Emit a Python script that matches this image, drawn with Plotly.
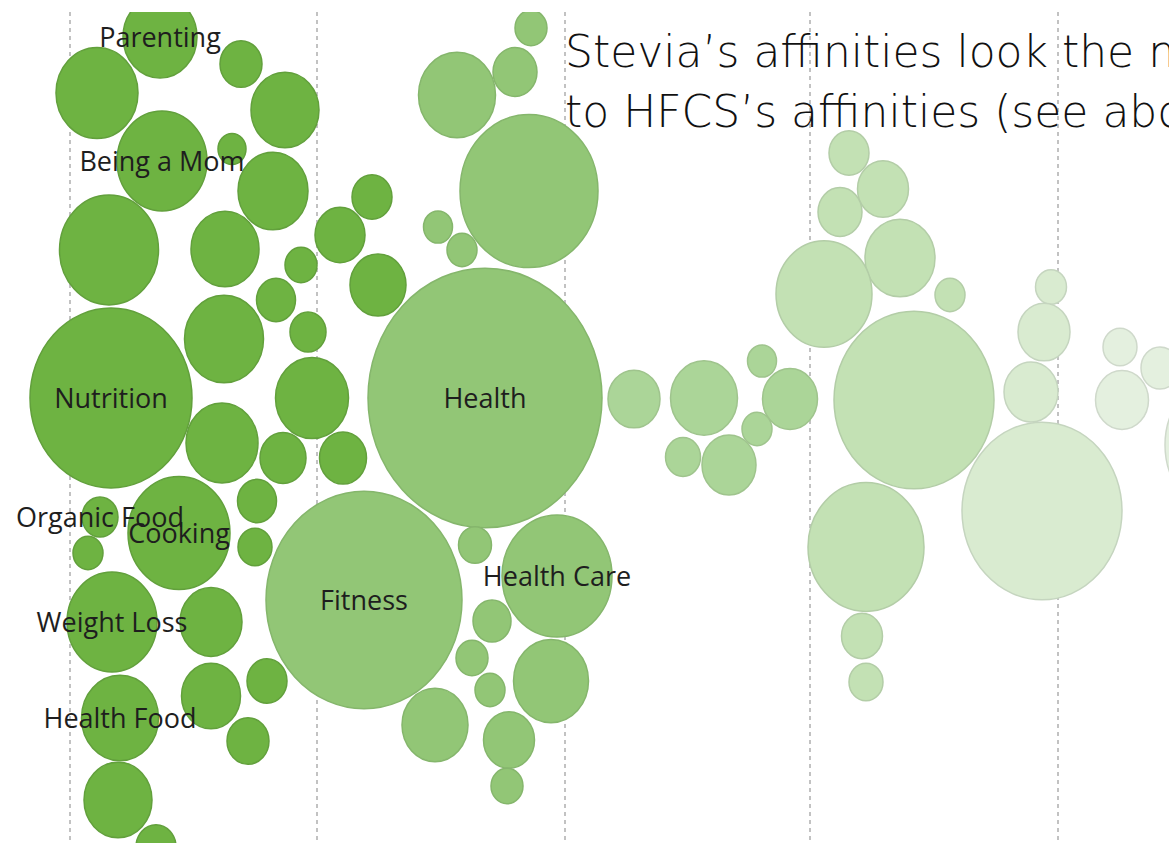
import plotly.graph_objects as go

# ---- data: topic bubbles (label, x, y, radius, shade group) ----
labels = [
    "Parenting", "", "", "", "Being a Mom", "", "", "", "", "",
    "", "", "", "", "", "Nutrition", "", "", "", "",
    "", "", "Cooking", "Organic Food", "", "", "Weight Loss", "", "Health Food", "",
    "", "", "", "",
    "Health", "Fitness", "", "", "", "", "", "", "", "Health Care",
    "", "", "", "", "", "", "",
    "", "", "", "", "", "", "",
    "", "", "", "", "", "", "", "", "", "",
    "", "", "", "",
    "", "", "", "",
]
bx = [
    160, 97, 241, 285, 162, 232, 273, 109, 225, 301,
    340, 372, 378, 276, 308, 111, 224, 312, 222, 283,
    343, 257, 179, 100, 88, 255, 112, 211, 120, 211,
    267, 248, 118, 156,
    485, 364, 457, 515, 531, 529, 438, 462, 475, 557,
    492, 472, 490, 551, 435, 509, 507,
    634, 704, 762, 790, 757, 683, 729,
    849, 883, 840, 900, 824, 950, 914, 866, 862, 866,
    1051, 1044, 1031, 1042,
    1120, 1160, 1122, 1230,
]
by = [
    37, 93, 64, 110, 161, 149, 191, 250, 249, 265,
    235, 197, 285, 300, 332, 398, 339, 398, 443, 458,
    458, 501, 533, 517, 553, 547, 622, 622, 718, 696,
    681, 741, 800, 847,
    398, 600, 95, 72, 28, 191, 227, 250, 545, 576,
    621, 658, 690, 681, 725, 740, 786,
    399, 398, 361, 399, 429, 457, 465,
    153, 189, 212, 258, 294, 295, 400, 547, 636, 682,
    287, 332, 392, 511,
    347, 368, 400, 445,
]
br = [
    37, 41, 21, 34, 45, 14, 35, 49.5, 34, 16,
    25, 20, 28, 19.5, 18, 81, 39.5, 36.5, 36, 23,
    23.5, 19.5, 51, 18, 15, 17, 45, 31, 38.5, 29.5,
    20, 21, 34, 20,
    117, 98, 38.5, 22, 16, 69, 14.5, 15, 16.5, 55,
    19, 16, 15, 37.5, 33, 25.5, 16,
    26, 33.5, 14.5, 27.5, 15, 17.5, 27,
    20, 25.5, 22, 35, 48, 15, 80, 58, 20.5, 17,
    15.5, 26, 27, 80,
    17, 19, 26.5, 65,
]
grp = [0] * 34 + [1] * 17 + [2] * 7 + [3] * 10 + [4] * 4 + [5] * 4

column_ticks = [70, 317, 565, 810, 1058]
title_lines = ["Stevia\u2019s affinities look the most similar",
               "to HFCS\u2019s affinities (see above)"]

# ---- styles ----
ASPECT = 1.11
fills = ["#6eb342", "#92c676", "#abd598", "#c3e1b4", "#d9ebd0", "#e4f0df"]
edges = ["#62a03c", "#85b66c", "#9fc48d", "#b3cda7", "#c5d5bf", "#cfd9cb"]

shapes = []
for x, y, r, g in zip(bx, by, br, grp):
    shapes.append(dict(
        type="circle", xref="x", yref="y",
        x0=x - r, x1=x + r, y0=y - r * ASPECT, y1=y + r * ASPECT,
        fillcolor=fills[g], line=dict(color=edges[g], width=1.5),
        layer="between",
    ))

lx = [x for x, t in zip(bx, labels) if t]
ly = [y + 3 for y, t in zip(by, labels) if t]
lt = [t for t in labels if t]

fig = go.Figure()
fig.add_trace(go.Scatter(
    x=lx, y=ly, text=lt, mode="text", textposition="middle center",
    textfont=dict(family="Open Sans", size=27, color="#1e1e1e"),
    hoverinfo="skip", showlegend=False,
))

annotations = []
for i, line in enumerate(title_lines):
    annotations.append(dict(
        x=563, y=51 + 60 * i, xref="x", yref="y", text=line, showarrow=False,
        xanchor="left", yanchor="middle",
        font=dict(family="DejaVu Sans", size=44, color="#111111", weight=200),
    ))

fig.update_layout(
    width=1169, height=843,
    margin=dict(l=0, r=0, t=12, b=0),
    paper_bgcolor="white", plot_bgcolor="white",
    shapes=shapes, annotations=annotations,
    showlegend=False,
    xaxis=dict(range=[0, 1169], tickvals=column_ticks, showticklabels=False,
               ticks="", showgrid=True, gridcolor="#c2c2c2", gridwidth=1.5,
               griddash="4px,4px", zeroline=False, showline=False, fixedrange=True),
    yaxis=dict(range=[843, 12], showgrid=False, zeroline=False, showline=False,
               showticklabels=False, ticks="", fixedrange=True),
)

fig.write_html("out.html")
